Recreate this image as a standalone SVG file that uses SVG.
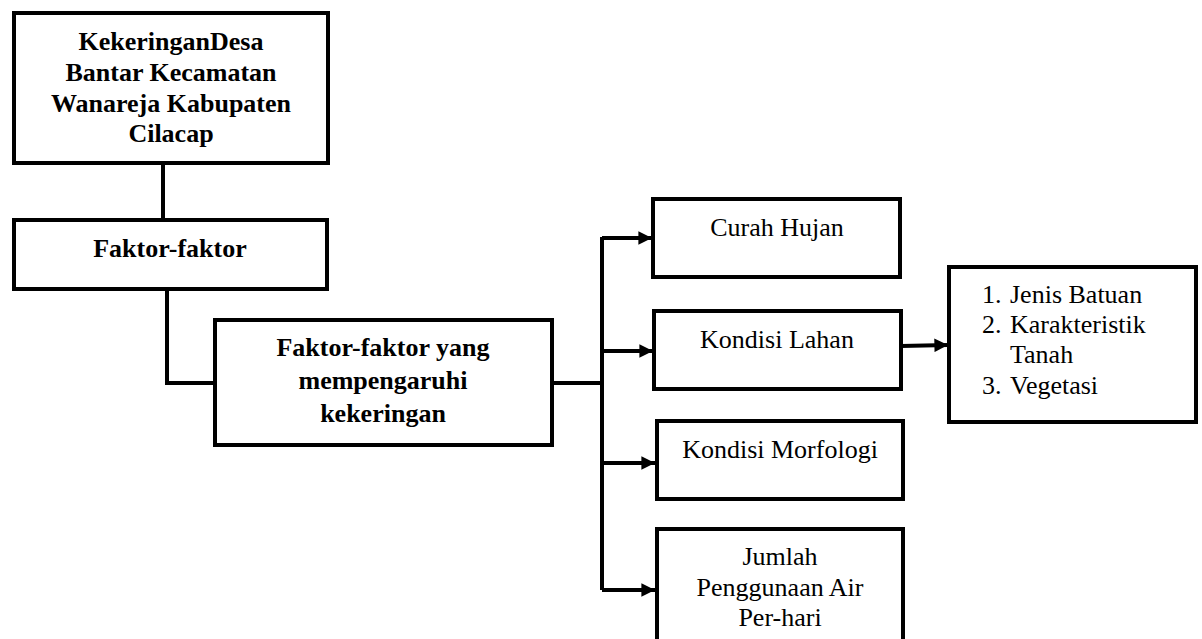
<svg xmlns="http://www.w3.org/2000/svg" width="1202" height="639" viewBox="0 0 1202 639">
<style>
.box{fill:#fff;stroke:#000;stroke-width:4}
.ln{fill:none;stroke:#000;stroke-width:4}
.b{font-weight:bold}
</style>
<defs>
<marker id="ah" viewBox="0 0 10 10" refX="10" refY="5" markerWidth="3.8" markerHeight="3.4" orient="auto" markerUnits="strokeWidth">
<path d="M0,0 L10,5 L0,10 z" fill="#000"/>
</marker>
</defs>
<g id="connectors">
<path class="ln" d="M163,163 V220"/>
<path class="ln" d="M167,289 V383 H215"/>
<path class="ln" d="M552,383 H602"/>
<path class="ln" d="M602,237 V590"/>
<path class="ln" d="M602,238 H652" marker-end="url(#ah)"/>
<path class="ln" d="M602,351 H653" marker-end="url(#ah)"/>
<path class="ln" d="M602,463 H655" marker-end="url(#ah)"/>
<path class="ln" d="M602,590 H655" marker-end="url(#ah)"/>
<path class="ln" d="M901,346 L948,345" marker-end="url(#ah)"/>
</g>
<g font-family="Liberation Serif" font-size="26" fill="#000" text-anchor="middle">
<g id="n1">
<rect class="box" x="14" y="13" width="314" height="150"/>
<text class="b" x="171" y="50">KekeringanDesa</text>
<text class="b" x="171" y="81">Bantar Kecamatan</text>
<text class="b" x="171" y="112">Wanareja Kabupaten</text>
<text class="b" x="171" y="142">Cilacap</text>
</g>
<g id="n2">
<rect class="box" x="14" y="220" width="313" height="69"/>
<text class="b" x="170" y="257">Faktor-faktor</text>
</g>
<g id="n3">
<rect class="box" x="215" y="320" width="337" height="125"/>
<text class="b" x="383" y="356">Faktor-faktor yang</text>
<text class="b" x="383" y="389">mempengaruhi</text>
<text class="b" x="383" y="422">kekeringan</text>
</g>
<g id="n4">
<rect class="box" x="653" y="199" width="247" height="78"/>
<text x="777" y="236">Curah Hujan</text>
</g>
<g id="n5">
<rect class="box" x="654" y="311" width="247" height="78"/>
<text x="777" y="348">Kondisi Lahan</text>
</g>
<g id="n6">
<rect class="box" x="657" y="421" width="246" height="78"/>
<text x="780" y="458">Kondisi Morfologi</text>
</g>
<g id="n7">
<rect class="box" x="657" y="529" width="246" height="115"/>
<text x="780" y="565">Jumlah</text>
<text x="780" y="596">Penggunaan Air</text>
<text x="780" y="626">Per-hari</text>
</g>
<g id="n8" text-anchor="start">
<rect class="box" x="949" y="267" width="247" height="155"/>
<text x="982" y="303">1.</text>
<text x="1010" y="303">Jenis Batuan</text>
<text x="982" y="333">2.</text>
<text x="1010" y="333">Karakteristik</text>
<text x="1010" y="363">Tanah</text>
<text x="982" y="394">3.</text>
<text x="1010" y="394">Vegetasi</text>
</g>
</g>
</svg>
